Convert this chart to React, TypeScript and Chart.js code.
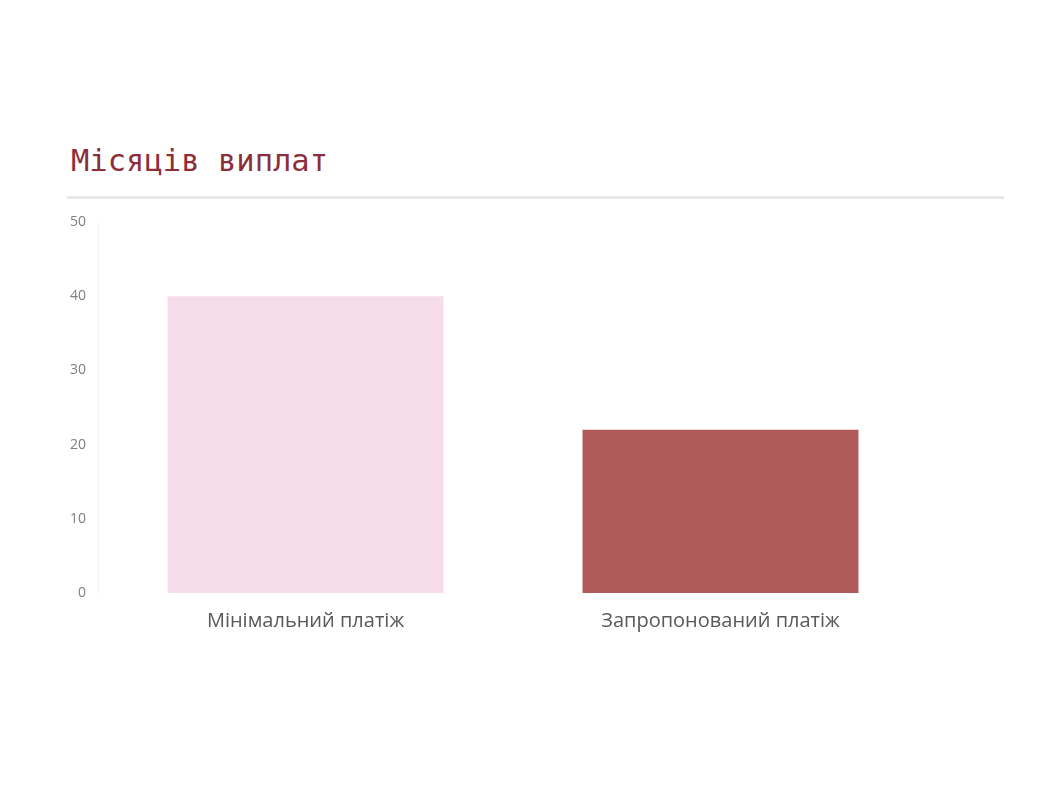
import { useEffect, useRef } from "react";
import { Chart, registerables } from "chart.js";

Chart.register(...registerables);

const categories = ["Мінімальний платіж", "Запропонований платіж"];
const months = [40, 22];
const barColors = ["#f6dde9", "#b05a5a"];
const tickValues = [0, 10, 20, 30, 40, 50];

const App = () => {
  const canvasRef = useRef<HTMLCanvasElement | null>(null);

  useEffect(() => {
    if (!canvasRef.current) return;

    const chart = new Chart(canvasRef.current, {
      type: "bar",
      data: {
        labels: categories,
        datasets: [
          {
            data: months,
            backgroundColor: barColors,
            borderWidth: 0,
            barPercentage: 0.665,
            categoryPercentage: 1,
          },
        ],
      },
      options: {
        animation: false,
        responsive: false,
        layout: { padding: { left: 60, right: 110, top: 222, bottom: 160 } },
        plugins: {
          legend: { display: false },
          tooltip: { enabled: false },
        },
        scales: {
          x: {
            grid: { display: false, drawTicks: false },
            border: { display: false },
            ticks: {
              padding: 16,
              color: "#595959",
              font: { family: "Open Sans", size: 20 },
            },
            afterFit: (scale) => {
              scale.height = 47;
            },
          },
          y: {
            min: 0,
            max: 50,
            afterBuildTicks: (scale) => {
              scale.ticks = tickValues.map((v) => ({ value: v }));
            },
            grid: { display: false, drawTicks: false },
            border: { display: true, color: "#f2f2f2", width: 1 },
            ticks: {
              padding: 12,
              color: "#7f7f7f",
              font: { family: "Open Sans", size: 14 },
            },
            afterFit: (scale) => {
              scale.width = 38;
            },
          },
        },
      },
    });

    return () => {
      chart.destroy();
    };
  }, []);

  return (
    <div style={{ position: "absolute", left: 0, top: 0, width: 1038, height: 800, background: "#fff" }}>
      <div
        style={{
          position: "absolute",
          left: 71,
          top: 143,
          fontFamily: "'DejaVu Sans Mono', monospace",
          fontSize: 30.5,
          color: "#8c2f3b",
          whiteSpace: "nowrap",
        }}
      >
        Місяців виплат
      </div>
      <div
        style={{
          position: "absolute",
          left: 67,
          top: 196,
          width: 937,
          height: 3,
          background: "#e8e8e8",
        }}
      />
      <canvas ref={canvasRef} width={1038} height={800} style={{ position: "absolute", left: 0, top: 0 }} />
    </div>
  );
};

export default App;
